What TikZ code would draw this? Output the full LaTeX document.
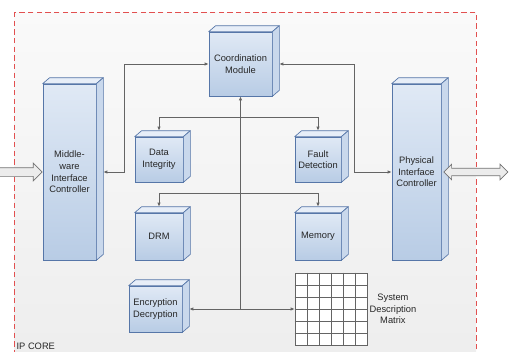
\documentclass[tikz,border=0pt]{standalone}
\usepackage{fontspec}
\setmainfont{Liberation Sans}
\usetikzlibrary{arrows.meta,shapes.arrows,calc}
\definecolor{ipblue}{RGB}{86,118,168}
\definecolor{iplight}{RGB}{224,233,245}
\definecolor{ipdeep}{RGB}{184,204,229}
\definecolor{iptop}{RGB}{231,238,248}
\definecolor{ipside}{RGB}{201,216,236}
\definecolor{ipgray}{RGB}{100,100,100}
\definecolor{ipred}{RGB}{226,80,80}
\definecolor{ipback}{RGB}{236,236,236}

\begin{document}
\begin{tikzpicture}[x=0.75pt, y=-0.75pt, >={Latex[length=3pt,width=2.6pt]},
  every node/.style={font=\fontsize{7}{8.7}\selectfont, text=black!85},
  block/.style={draw=ipblue, line width=0.5pt, top color=iplight, bottom color=ipdeep, inner sep=1pt, align=center},
  face/.style={draw=ipblue, line width=0.5pt, line join=round},
  link/.style={ipgray, line width=0.6pt},
  gridline/.style={ipgray, line width=0.4pt},
  hollow/.style={draw=black!55, fill=ipback, line width=0.5pt}]
\useasboundingbox (0,0) rectangle (526,351);

% IP core frame
\draw[ipred, line width=0.6pt, dash pattern=on 4pt off 2.5pt, top color=black!2, bottom color=black!7]
  (14,12) rectangle (476,370);
\node[anchor=south west, inner sep=1pt] (ipcore) at (15,351) {IP CORE};

% Blocks
\node[block, minimum width=47.25pt, minimum height=48pt] (coord) at (240.5,64) {Coordination\\Module};
\node[block, minimum width=39.75pt, minimum height=132pt] (mid) at (69.5,172) {Middle-\\ware\\Interface\\Controller};
\node[block, minimum width=36pt, minimum height=33.75pt] (data) at (159,159.5) {Data\\Integrity};
\node[block, minimum width=34.5pt, minimum height=33.75pt] (fault) at (318,159.5) {Fault\\Detection};
\node[block, minimum width=36pt, minimum height=35.25pt] (drm) at (159,236.5) {DRM};
\node[block, minimum width=34.5pt, minimum height=35.25pt] (mem) at (318,236.5) {Memory};
\node[block, minimum width=39.75pt, minimum height=34.5pt] (enc) at (155.5,309) {Encryption\\Decryption};
\node[block, minimum width=36.75pt, minimum height=132pt] (phys) at (416.5,172) {Physical\\Interface\\Controller};

% Top and side faces
\foreach \b in {coord,mid,data,fault,drm,mem,enc,phys} {
  \filldraw[face, fill=iptop] (\b.north west) -- ++(7,-6) -- ([shift={(7,-6)}]\b.north east) -- (\b.north east) -- cycle;
  \filldraw[face, fill=ipside] (\b.north east) -- ++(7,-6) -- ([shift={(7,-6)}]\b.south east) -- (\b.south east) -- cycle;
  \coordinate (\b-e) at ([xshift=5.25pt]\b.east);
  \coordinate (\b-n) at ([yshift=4.5pt]\b.north);
}

% System description matrix
\node[draw=ipgray, fill=white, line width=0.5pt, minimum size=54pt, inner sep=0pt] (sdm) at (331,309) {};
\foreach \i in {1,...,5} {
  \draw[gridline] ($(sdm.north west)!\i/6!(sdm.north east)$) -- ($(sdm.south west)!\i/6!(sdm.south east)$);
  \draw[gridline] ($(sdm.north west)!\i/6!(sdm.south west)$) -- ($(sdm.north east)!\i/6!(sdm.south east)$);
}
\node[anchor=west, align=center, inner sep=1.5pt] (sdmlabel) at (sdm.east) {System\\Description\\Matrix};

% Connections
\draw[link, <->] (mid-e) -- ++(21,0) |- (coord.west);
\draw[link, <->] (coord-e) -- ++(75,0) |- (phys.west);
\draw[link, <->] (data-n) -- ++(0,-13) -| (fault-n);
\draw[link, <->] (drm-n) -- ++(0,-13) -| (mem-n);
\draw[link, <-] (coord.south) -- (coord.south |- enc-e);
\draw[link, <->] (enc-e) -- (sdm.west);

% External buses
\node[hollow, single arrow, inner sep=3pt, single arrow head extend=3.5pt, minimum height=36pt, anchor=tip] (hostbus) at (mid.west) {};
\node[hollow, double arrow, inner sep=2.6pt, double arrow head extend=3pt, minimum height=48pt, anchor=west] (phybus) at ([xshift=1.5pt]phys.east) {};

\end{tikzpicture}
\end{document}
